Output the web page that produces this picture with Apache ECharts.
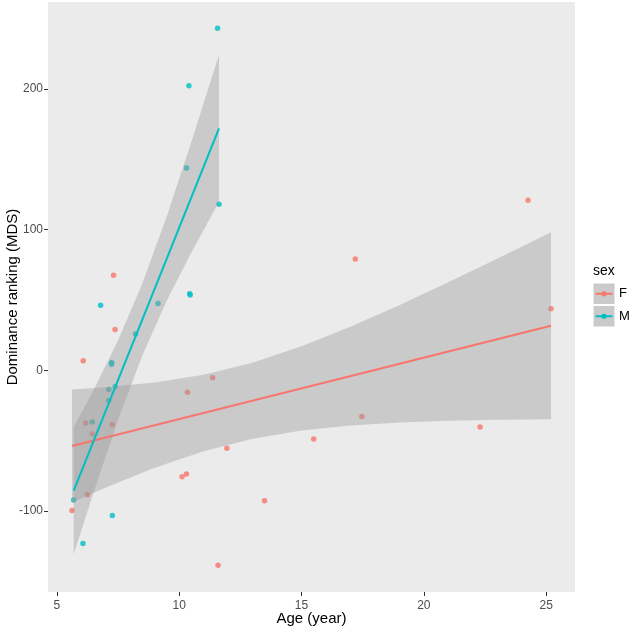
<!DOCTYPE html>
<html>
<head>
<meta charset="utf-8">
<script src="https://cdn.jsdelivr.net/npm/echarts@6/dist/echarts.min.js"></script>
<style>
  html, body { margin: 0; padding: 0; background: #ffffff; }
  #chart { width: 630px; height: 628px; }
</style>
</head>
<body>
<div id="chart"></div>
<script>
// ---- data ----
var fAge  = [7.32, 7.38, 6.08, 11.37, 10.34, 6.18, 7.27, 6.45, 11.95, 15.50, 10.12, 10.30, 6.25, 5.62, 13.49, 11.59, 24.26, 17.20, 25.20, 17.47, 22.30];
var fRank = [67.5, 29.0, 6.7, -5.4, -15.7, -37.5, -38.7, -45.3, -55.6, -48.9, -75.8, -73.8, -88.6, -99.8, -92.9, -138.7, 121.0, 79.1, 43.8, -33.0, -40.4];

var mAge  = [11.57, 10.40, 10.30, 11.63, 10.43, 10.45, 6.79, 9.14, 8.22, 7.24, 7.24, 7.12, 7.39, 7.12, 6.45, 5.69, 7.27, 6.07];
var mRank = [243.3, 202.4, 143.8, 118.1, 54.5, 53.5, 46.3, 47.5, 25.7, 5.5, 4.3, -13.8, -11.6, -21.6, -36.8, -92.4, -103.3, -123.3];

// fitted lines (end points) and confidence bands
var fLineX = [5.62, 25.20];
var fLineY = [-53.9, 31.7];
var mLineX = [5.69, 11.63];
var mLineY = [-85.7, 172.1];

var fBandX  = [5.62, 7, 9, 11, 13, 15, 17, 19, 21, 23, 25.2];
var fUpper  = [-13.8, -12.2, -8.8, -3.2, 5.4, 17.0, 31.0, 46.3, 62.6, 79.3, 98.2];
var fLower  = [-94.1, -83.5, -69.4, -57.6, -48.7, -42.9, -39.3, -37.2, -36.0, -35.2, -34.8];

var mBandX  = [5.69, 6.5, 7.5, 8.5, 9.5, 10.5, 11.63];
var mUpper  = [-40.5, -14.2, 21.1, 61.9, 109.7, 162.4, 224.4];
var mLower  = [-130.9, -87.0, -35.4, 10.7, 49.7, 83.8, 119.8];

var xTicks = [5, 10, 15, 20, 25];
var yTicks = [-100, 0, 100, 200];

var sexLevels = ['F', 'M'];
var sexColors = ['#F8766D', '#00BFC4'];

// ---- helpers ----
function pairs(xs, ys) { return xs.map(function (x, i) { return [x, ys[i]]; }); }

function bandSeries(xs, up, lo) {
  return {
    type: 'custom',
    coordinateSystem: 'cartesian2d',
    silent: true,
    z: 3,
    data: [[xs[0], up[0]]],
    renderItem: function (params, api) {
      var pts = [];
      for (var i = 0; i < xs.length; i++) pts.push(api.coord([xs[i], up[i]]));
      for (var j = xs.length - 1; j >= 0; j--) pts.push(api.coord([xs[j], lo[j]]));
      return { type: 'polygon', shape: { points: pts }, style: { fill: 'rgba(153,153,153,0.4)' } };
    }
  };
}

var chart = echarts.init(document.getElementById('chart'), null, { renderer: 'canvas' });

var font = 'Liberation Sans, Arial, sans-serif';

var option = {
  backgroundColor: '#ffffff',
  animation: false,
  textStyle: { fontFamily: font },
  grid: {
    left: 48, top: 2, width: 527, height: 590,
    show: true, backgroundColor: '#EBEBEB', borderWidth: 0,
    containLabel: false,
    outerBoundsMode: 'none'
  },
  xAxis: {
    type: 'value',
    min: 4.64, max: 26.18,
    interval: 5,
    name: 'Age (year)',
    nameLocation: 'middle',
    nameGap: 19,
    nameMoveOverlap: false,
    nameTextStyle: { color: '#000000', fontSize: 15, fontFamily: font },
    axisLine: { show: false, onZero: false },
    splitLine: { show: false },
    axisTick: { show: true, length: 4, lineStyle: { color: '#333333', width: 1 }, customValues: xTicks },
    axisLabel: { color: '#4D4D4D', fontSize: 12, margin: 8, fontFamily: font, customValues: xTicks }
  },
  yAxis: {
    type: 'value',
    min: -157.8, max: 262.0,
    interval: 100,
    name: 'Dominance ranking (MDS)',
    nameLocation: 'middle',
    nameGap: 28,
    nameMoveOverlap: false,
    nameTextStyle: { color: '#000000', fontSize: 15, fontFamily: font },
    axisLine: { show: false, onZero: false },
    splitLine: { show: false },
    axisTick: { show: true, length: 4, lineStyle: { color: '#333333', width: 1 }, customValues: yTicks },
    axisLabel: { color: '#4D4D4D', fontSize: 12, margin: 5, fontFamily: font, customValues: yTicks }
  },
  series: [
    {
      name: 'F', type: 'scatter', z: 2, symbolSize: 5.5,
      itemStyle: { color: sexColors[0] },
      data: pairs(fAge, fRank)
    },
    {
      name: 'M', type: 'scatter', z: 2, symbolSize: 5.5,
      itemStyle: { color: sexColors[1] },
      data: pairs(mAge, mRank)
    },
    bandSeries(fBandX, fUpper, fLower),
    bandSeries(mBandX, mUpper, mLower),
    {
      name: 'F fit', type: 'line', z: 4, showSymbol: false, silent: true,
      lineStyle: { color: sexColors[0], width: 2 },
      data: pairs(fLineX, fLineY)
    },
    {
      name: 'M fit', type: 'line', z: 4, showSymbol: false, silent: true,
      lineStyle: { color: sexColors[1], width: 2 },
      data: pairs(mLineX, mLineY)
    }
  ],
  graphic: (function () {
    var els = [];
    els.push({ type: 'text', left: 593, top: 264, style: { text: 'sex', fontSize: 14, fill: '#000000', fontFamily: font } });
    sexLevels.forEach(function (lv, i) {
      var y0 = 283 + i * 22.5;
      els.push({ type: 'rect', shape: { x: 593, y: y0, width: 22, height: 21.5 }, style: { fill: '#CACACA', stroke: '#FFFFFF', lineWidth: 1 } });
      els.push({ type: 'line', shape: { x1: 595.5, y1: y0 + 10.75, x2: 612.5, y2: y0 + 10.75 }, style: { stroke: sexColors[i], lineWidth: 2 } });
      els.push({ type: 'circle', shape: { cx: 604, cy: y0 + 10.75, r: 2.6 }, style: { fill: sexColors[i] } });
      els.push({ type: 'text', left: 619, top: y0 + 4, style: { text: lv, fontSize: 13, fill: '#000000', fontFamily: font } });
    });
    return els;
  })()
};

chart.setOption(option);
</script>
</body>
</html>
